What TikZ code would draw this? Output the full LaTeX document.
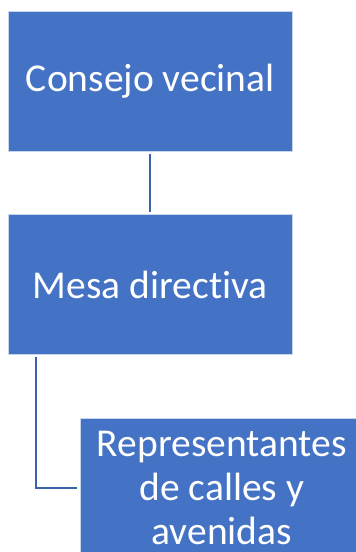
\documentclass[tikz,border=0pt]{standalone}
\usepackage{fontspec}
\setmainfont{Carlito}[Ligatures=NoCommon]
\definecolor{boxblue}{HTML}{4472C4}
\definecolor{lineblue}{HTML}{3A62A8}
\tikzset{
  orgbox/.style={rectangle, fill=boxblue, draw=white!70!boxblue, line width=0.6pt,
    minimum width=283.5pt, minimum height=140pt, text=white, align=center,
    font=\fontsize{39.5}{44}\selectfont, inner sep=0pt},
  conn/.style={draw=lineblue, line width=1.6pt}
}
\begin{document}
\begin{tikzpicture}[x=1pt,y=1pt]
\useasboundingbox (0,0) rectangle (356,-552);
\clip (0,0) rectangle (356,-552);
\fill[white] (0,0) rectangle (356,-552);
\node[orgbox] (cv) at (150.25,-81) {Consejo vecinal};
\node[orgbox] (md) at (150.25,-284.5) {Mesa directiva};
\node[orgbox] (rc) at (221.75,-488) {Representantes\\de calles y\\avenidas};
\coordinate (elb) at (36,-488);
\draw[conn] ([yshift=-3pt]cv.south) -- ([yshift=2pt]md.north);
\draw[conn] ([yshift=-2pt]md.south -| elb) -- (elb) -- ([xshift=-3pt]rc.west);
\end{tikzpicture}
\end{document}
